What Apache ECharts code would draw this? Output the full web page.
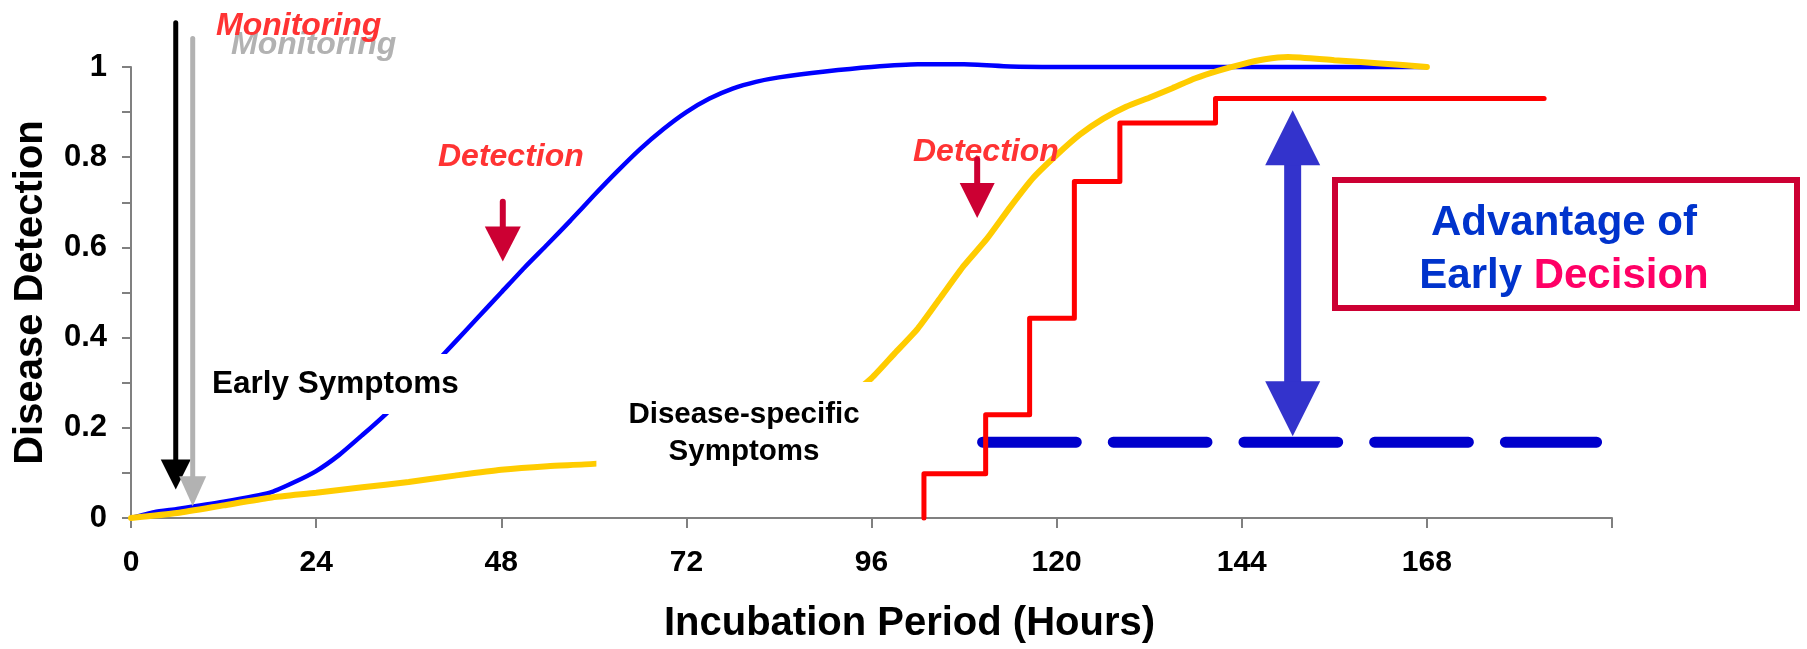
<!DOCTYPE html>
<html>
<head>
<meta charset="utf-8">
<script src="https://cdn.jsdelivr.net/npm/echarts@6.0.0/dist/echarts.min.js"></script>
<style>
  html, body { margin: 0; padding: 0; background: #fff; }
  #chart { width: 1807px; height: 649px; }
</style>
</head>
<body>
<div id="chart"></div>
<script>
// hours shown on the x axis (192 is a tick without label)
const xTicks = [0, 24, 48, 72, 96, 120, 144, 168];
const yTickLabels = ['0', '0.2', '0.4', '0.6', '0.8', '1'];

// [hour, detection]
const earlyCurve = [
  [0, 0], [3, 0.013], [6, 0.02], [12, 0.036], [18, 0.056], [21, 0.078], [24, 0.104],
  [27, 0.14], [30, 0.184], [33, 0.23], [36, 0.28], [39, 0.335], [42, 0.39], [45, 0.445],
  [48, 0.5], [51, 0.555], [54, 0.607], [57, 0.66], [60, 0.715], [63, 0.768], [66, 0.818],
  [69, 0.862], [72, 0.9], [75, 0.93], [78, 0.952], [81, 0.967], [84, 0.977], [90, 0.99],
  [96, 1.0], [102, 1.006], [108, 1.006], [114, 1.001], [120, 1.0], [144, 1.0], [168, 1.0]
];
const specificCurve = [
  [0, 0], [6, 0.011], [12, 0.028], [18, 0.045], [24, 0.056], [30, 0.068], [36, 0.08],
  [42, 0.094], [48, 0.107], [54, 0.115], [60, 0.12], [66, 0.13], [72, 0.145], [78, 0.165],
  [84, 0.195], [90, 0.24], [93, 0.27], [96, 0.31], [99, 0.365], [102, 0.42], [105, 0.49],
  [108, 0.56], [111, 0.62], [114, 0.69], [117, 0.755], [120, 0.805], [123, 0.85],
  [126, 0.885], [129, 0.912], [132, 0.932], [135, 0.953], [138, 0.975], [141, 0.992],
  [144, 1.006], [147, 1.017], [150, 1.022], [156, 1.015], [162, 1.008], [168, 1.0]
];
const decisionSteps = [
  [102.8, 0], [110.8, 0.098], [116.5, 0.229], [122.3, 0.443], [128.2, 0.746],
  [140.6, 0.876], [183.2, 0.93]
];
const thresholdLine = [[110.4, 0.168], [190, 0.168]];

// annotation arrows, in axis units: [hour, top, tip]
const monitorArrowBlack = [5.8, 1.098, 0.063];
const monitorArrowGrey = [8.0, 1.063, 0.026];
const detectArrowEarly = [48.2, 0.701, 0.569];
const detectArrowLate = [109.7, 0.795, 0.665];
const advantageArrow = [150.6, 0.904, 0.181];

const FONT = 'Liberation Sans, Arial, sans-serif';
const chart = echarts.init(document.getElementById('chart'));

chart.setOption({
  animation: false,
  grid: { left: 131, right: 195, top: 67, bottom: 130 },
  xAxis: {
    type: 'value',
    min: 0,
    max: 192,
    interval: 24,
    name: 'Incubation Period (Hours)',
    nameLocation: 'middle',
    nameGap: 86,
    nameTextStyle: {
      color: '#000', fontSize: 40, fontWeight: 'bold', fontFamily: FONT,
      padding: [0, 0, 0, 76]
    },
    axisLine: { lineStyle: { color: '#808080', width: 2 } },
    axisTick: { length: 10, lineStyle: { color: '#808080', width: 2 } },
    axisLabel: {
      color: '#000', fontSize: 30, fontWeight: 'bold', fontFamily: FONT, margin: 30,
      formatter: (v) => (xTicks.includes(v) ? String(v) : '')
    },
    splitLine: { show: false }
  },
  yAxis: {
    type: 'value',
    min: 0,
    max: 1,
    interval: 0.1,
    name: 'Disease Detection',
    nameLocation: 'middle',
    nameGap: 80,
    nameTextStyle: { color: '#000', fontSize: 40, fontWeight: 'bold', fontFamily: FONT },
    axisLine: { show: true, lineStyle: { color: '#808080', width: 2 } },
    axisTick: { show: true, length: 9, lineStyle: { color: '#808080', width: 2 } },
    axisLabel: {
      color: '#000', fontSize: 31, fontWeight: 'bold', fontFamily: FONT, margin: 24,
      formatter: (v) => {
        const t = Math.round(v * 10);
        return t % 2 === 0 ? yTickLabels[t / 2] : '';
      }
    },
    splitLine: { show: false }
  },
  series: [
    {
      name: 'Early Symptoms',
      type: 'line',
      data: earlyCurve,
      showSymbol: false,
      smooth: 0.2,
      clip: false,
      z: 2,
      lineStyle: { color: '#0000FF', width: 4.5 }
    },
    {
      name: 'Disease-specific Symptoms',
      type: 'line',
      data: specificCurve,
      showSymbol: false,
      smooth: 0.2,
      clip: false,
      z: 3,
      lineStyle: { color: '#FFCC00', width: 6, cap: 'round' }
    },
    {
      name: 'Threshold',
      type: 'line',
      data: thresholdLine,
      showSymbol: false,
      clip: false,
      z: 4,
      lineStyle: { color: '#0000CC', width: 11, type: [93.7, 37], cap: 'round' }
    },
    {
      name: 'Decision',
      type: 'line',
      data: decisionSteps,
      step: 'start',
      showSymbol: false,
      clip: false,
      z: 5,
      lineStyle: { color: '#FF0000', width: 5, cap: 'round', join: 'round' }
    }
  ]
});

const px = (h, v) => chart.convertToPixel({ xAxisIndex: 0, yAxisIndex: 0 }, [h, v]);

function downArrow(a, headLen, headW, shaftW, color, cap) {
  const top = px(a[0], a[1]);
  const tip = px(a[0], a[2]);
  return [
    {
      type: 'line', z: 20,
      shape: { x1: tip[0], y1: top[1], x2: tip[0], y2: tip[1] - headLen + 2 },
      style: { stroke: color, lineWidth: shaftW, lineCap: cap || 'round' }
    },
    {
      type: 'polygon', z: 20,
      shape: { points: [[tip[0] - headW / 2, tip[1] - headLen], [tip[0] + headW / 2, tip[1] - headLen], [tip[0], tip[1]]] },
      style: { fill: color }
    }
  ];
}

function doubleArrow(a, headLen, headW, shaftW, color) {
  const top = px(a[0], a[1]);
  const bot = px(a[0], a[2]);
  const x = top[0];
  return [
    {
      type: 'rect', z: 20,
      shape: { x: x - shaftW / 2, y: top[1] + headLen - 1, width: shaftW, height: bot[1] - top[1] - 2 * headLen + 2 },
      style: { fill: color }
    },
    {
      type: 'polygon', z: 20,
      shape: { points: [[x, top[1]], [x - headW / 2, top[1] + headLen], [x + headW / 2, top[1] + headLen]] },
      style: { fill: color }
    },
    {
      type: 'polygon', z: 20,
      shape: { points: [[x, bot[1]], [x - headW / 2, bot[1] - headLen], [x + headW / 2, bot[1] - headLen]] },
      style: { fill: color }
    }
  ];
}

const redItalic = { fontSize: 32, fontWeight: 'bold', fontStyle: 'italic', fontFamily: FONT };
const shadowText = {
  fontSize: 42, fontWeight: 'bold', fontFamily: FONT, lineHeight: 53,
  textShadowColor: '#A8A8A8', textShadowOffsetX: 2.5, textShadowOffsetY: 2.5, textShadowBlur: 0
};

chart.setOption({
  graphic: [
    // monitoring labels and arrows
    { type: 'text', z: 15, style: Object.assign({ text: 'Monitoring', x: 231, y: 45, fill: '#B2B2B2', verticalAlign: 'middle' }, redItalic) },
    { type: 'text', z: 16, style: Object.assign({ text: 'Monitoring', x: 216, y: 26, fill: '#FF3333', verticalAlign: 'middle' }, redItalic) },
    ...downArrow(monitorArrowBlack, 30, 30, 5, '#000000'),
    ...downArrow(monitorArrowGrey, 30, 27, 5, '#B2B2B2'),
    // detection labels and arrows
    { type: 'text', z: 15, style: Object.assign({ text: 'Detection', x: 438, y: 157, fill: '#FF3333', verticalAlign: 'middle' }, redItalic) },
    { type: 'text', z: 15, style: Object.assign({ text: 'Detection', x: 913, y: 152, fill: '#FF3333', verticalAlign: 'middle' }, redItalic) },
    ...downArrow(detectArrowEarly, 35, 36, 6, '#CC0033'),
    ...downArrow(detectArrowLate, 35, 35, 6, '#CC0033'),
    // curve labels with white backing
    {
      type: 'text', z: 12,
      style: {
        text: 'Early Symptoms', x: 204, y: 384, fill: '#000', verticalAlign: 'middle',
        fontSize: 31.5, fontWeight: 'bold', fontFamily: FONT, lineHeight: 30,
        backgroundColor: '#fff', padding: [15, 8]
      }
    },
    {
      type: 'text', z: 12,
      style: {
        text: 'Disease-specific\nSymptoms', x: 744, y: 433, fill: '#000',
        align: 'center', verticalAlign: 'middle',
        fontSize: 29.5, fontWeight: 'bold', fontFamily: FONT, lineHeight: 37,
        backgroundColor: '#fff', padding: [14, 32]
      }
    },
    // advantage box
    {
      type: 'rect', z: 12,
      shape: { x: 1335, y: 180, width: 462, height: 128 },
      style: { fill: '#fff', stroke: '#CC0033', lineWidth: 6 }
    },
    {
      type: 'text', z: 13,
      style: {
        text: '{b|Advantage of}\n{b|Early }{r|Decision}',
        x: 1564, y: 250, align: 'center', verticalAlign: 'middle',
        fontSize: 42, fontWeight: 'bold', fontFamily: FONT, lineHeight: 53,
        rich: {
          b: Object.assign({ fill: '#0033CC' }, shadowText),
          r: Object.assign({ fill: '#FF0066' }, shadowText)
        }
      }
    },
    ...doubleArrow(advantageArrow, 55, 55, 17, '#3333CC')
  ]
});
</script>
</body>
</html>
